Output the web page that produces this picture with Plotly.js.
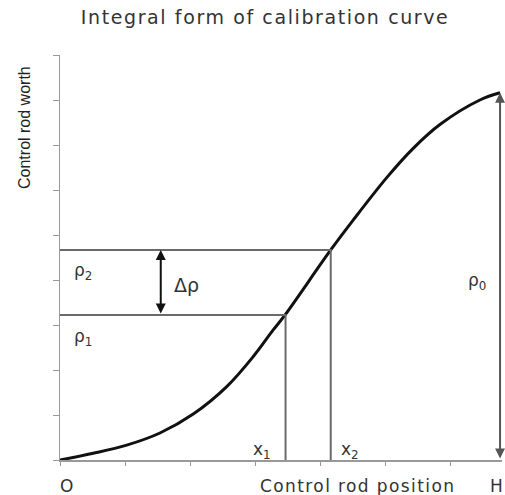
<!DOCTYPE html>
<html>
<head>
<meta charset="utf-8">
<script src="https://cdn.plot.ly/plotly-3.0.1.min.js"></script>
<style>
  html, body { margin: 0; padding: 0; background: #fff; }
  #chart { width: 505px; height: 495px; }
  #chart .gtitle { letter-spacing: 1.6px; }
</style>
</head>
<body>
<div id="chart"></div>
<script>
// Integral calibration curve: rod worth versus rod position
const rodPosition = [0, 0.512, 1.026, 1.538, 2.05, 2.565, 2.974, 3.28, 3.46, 4.165, 4.51, 5.03, 5.43, 5.85, 6.46, 6.77];
const rodWorth    = [0, 0.149, 0.33, 0.60, 1.02, 1.63, 2.30, 2.89, 3.22, 4.667, 5.33, 6.28, 6.92, 7.46, 8.0, 8.16];

// Two rod positions and the worth read at each
const x1 = 3.47, rho1 = 3.22;
const x2 = 4.165, rho2 = 4.667;
const deltaRhoX = 1.55;   // where the Δρ arrow sits
const H = 6.77, rho0 = 8.16; // fully withdrawn position and total worth

const guide = { color: '#6a6a6a', width: 2 };
const txt = { family: 'DejaVu Sans, Verdana, sans-serif', size: 17, color: '#333' };

const traces = [
  { x: rodPosition, y: rodWorth, mode: 'lines', line: { color: '#111', width: 3, shape: 'spline', smoothing: 1 }, hoverinfo: 'skip' },
  { x: [0, x2, x2], y: [rho2, rho2, 0], mode: 'lines', line: guide, hoverinfo: 'skip' },
  { x: [0, x1, x1], y: [rho1, rho1, 0], mode: 'lines', line: guide, hoverinfo: 'skip' }
];

function label(x, y, text, extra) {
  return Object.assign({ x: x, y: y, xref: 'x', yref: 'y', text: text, showarrow: false,
                         xanchor: 'center', yanchor: 'middle', font: txt }, extra || {});
}

const annotations = [
  // Δρ double arrow
  { x: deltaRhoX, y: rho2, ax: deltaRhoX, ay: rho1, xref: 'x', yref: 'y', axref: 'x', ayref: 'y',
    showarrow: true, arrowhead: 2, startarrowhead: 2, arrowside: 'end+start', arrowsize: 1, arrowwidth: 2, arrowcolor: '#111', text: '' },
  // ρ0 double arrow
  { x: H, y: rho0, ax: H, ay: 0, xref: 'x', yref: 'y', axref: 'x', ayref: 'y',
    showarrow: true, arrowhead: 2, startarrowhead: 2, arrowside: 'end+start', arrowsize: 1, arrowwidth: 2, arrowcolor: '#555', text: '' },
  label(0.36, 4.18, 'ρ<sub>2</sub>'),
  label(0.36, 2.73, 'ρ<sub>1</sub>'),
  label(1.95, 3.89, 'Δρ', { font: Object.assign({}, txt, { size: 19 }) }),
  label(6.42, 3.96, 'ρ<sub>0</sub>'),
  label(3.1, 0.22, 'x<sub>1</sub>'),
  label(4.46, 0.22, 'x<sub>2</sub>'),
  label(0.1, -0.064, 'O', { yref: 'paper' }),
  label(4.58, -0.064, '<span style="letter-spacing:1.4px">Control rod position</span>', { yref: 'paper' }),
  label(6.72, -0.064, 'H', { yref: 'paper' }),
  { x: -0.079, y: 0.82, xref: 'paper', yref: 'paper', xanchor: 'center', yanchor: 'middle',
    text: 'Control rod worth', textangle: -90, showarrow: false,
    font: { family: 'Liberation Sans Narrow, Liberation Sans, sans-serif', size: 16, color: '#222' } }
];

const layout = {
  width: 505, height: 495,
  margin: { l: 60, r: 3, t: 55, b: 35 },
  paper_bgcolor: '#fff', plot_bgcolor: '#fff',
  showlegend: false,
  title: { text: 'Integral form of calibration curve', x: 0.525, xanchor: 'center', y: 0.965, yanchor: 'middle',
           font: { family: 'DejaVu Sans, Verdana, sans-serif', size: 19, color: '#333' } },
  xaxis: { range: [0, 6.8], dtick: 1, tick0: 0, showticklabels: false, ticks: 'outside', ticklen: 4,
           tickcolor: '#999', showgrid: false, zeroline: false, showline: true, linecolor: '#999', linewidth: 1.5, fixedrange: true },
  yaxis: { range: [0, 9], dtick: 1, tick0: 0, showticklabels: false, ticks: 'outside', ticklen: 6,
           tickcolor: '#999', showgrid: false, zeroline: false, showline: true, linecolor: '#999', linewidth: 1.5, fixedrange: true },
  annotations: annotations
};

Plotly.newPlot('chart', traces, layout, { staticPlot: true, displayModeBar: false });
</script>
</body>
</html>
